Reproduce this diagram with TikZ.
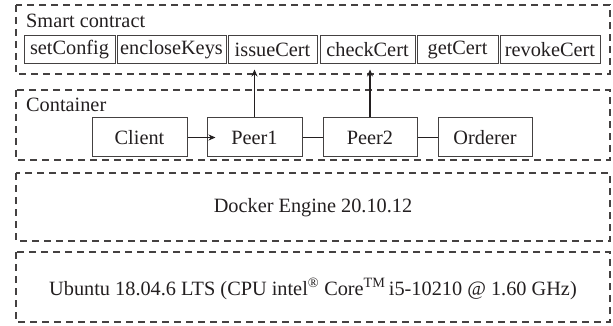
\documentclass[tikz,border=0pt]{standalone}
\usepackage{fontspec}
\setmainfont{Liberation Serif}
\usetikzlibrary{arrows.meta}
\definecolor{ink}{HTML}{231F20}
\begin{document}
\begin{tikzpicture}[x=1pt,y=-1pt,
  font=\fontsize{20.3}{24}\selectfont,
  text=ink,
  layer/.style={draw=ink!85, line width=1.2pt, dash pattern=on 7pt off 5pt},
  func/.style={draw=ink!85, line width=1pt, inner sep=0pt, minimum height=28pt, anchor=center},
  comp/.style={draw=ink!85, line width=1pt, inner sep=0pt, minimum height=39pt, anchor=center},
  link/.style={draw=ink, line width=1.3pt},
  arrow/.style={link, -{Stealth[length=7pt,width=6pt]}}]
\useasboundingbox (0,0) rectangle (613,326);

% layers of the stack
\draw[layer] (16,5) rectangle (610,74);
\draw[layer] (16,90) rectangle (610,160);
\draw[layer] (16,173) rectangle (610,241);
\draw[layer] (16,252) rectangle (610,322);

\node[anchor=base west, inner sep=0pt] (sclabel) at (26,28) {Smart contract};
\node[anchor=base west, inner sep=0pt] (ctlabel) at (26,112) {Container};
\node[anchor=base, inner sep=0pt] (docker) at (313,212) {Docker Engine 20.10.12};
\node[anchor=base, inner sep=0pt] (ubuntu) at (313,295)
  {Ubuntu 18.04.6 LTS (CPU intel\textsuperscript{®} Core\textsuperscript{TM}\,i5-10210 @ 1.60 GHz)};

% chaincode functions
\node[func, minimum width=91pt]  (setConfig)   at (69.5,50)  {setConfig};
\node[func, minimum width=109pt] (encloseKeys) at (171.5,50) {encloseKeys};
\node[func, minimum width=89pt]  (issueCert)   at (272.5,50) {issueCert};
\node[func, minimum width=95pt]  (checkCert)   at (367.5,50) {checkCert};
\node[func, minimum width=81pt]  (getCert)     at (457.5,50) {getCert};
\node[func, minimum width=100pt] (revokeCert)  at (550,50)   {revokeCert};

% network components
\node[comp, minimum width=95pt] (Client)  at (139.5,137.5) {Client};
\node[comp, minimum width=95pt] (Peer1)   at (254.5,137.5) {Peer1};
\node[comp, minimum width=94pt] (Peer2)   at (370,137.5)   {Peer2};
\node[comp, minimum width=94pt] (Orderer) at (485,137.5)   {Orderer};

% connections
\draw[arrow, shorten >=-9pt] (Client.east) -- (Peer1.west);
\draw[link] (Peer1.east) -- (Peer2.west);
\draw[link] (Peer2.east) -- (Orderer.west);
\draw[arrow, shorten >=5pt] (Peer1.north) -- (Peer1.north |- issueCert.south);
\draw[arrow, shorten >=5pt] (Peer2.north) -- (Peer2.north |- checkCert.south);
\end{tikzpicture}
\end{document}
